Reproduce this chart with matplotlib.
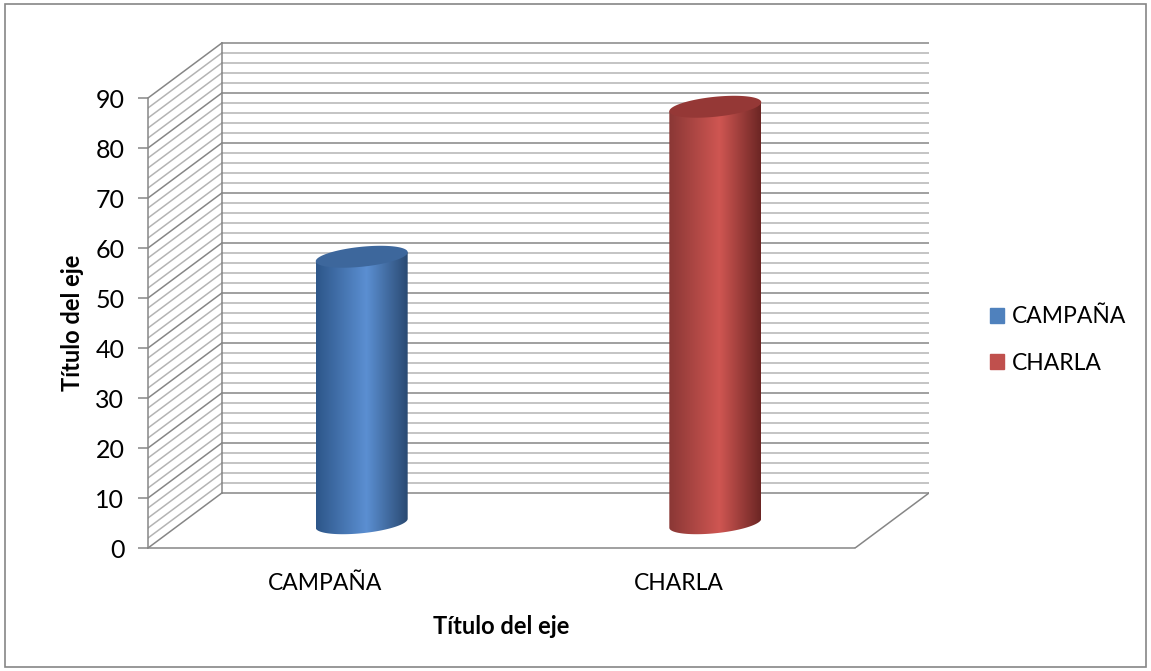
import numpy as np
import matplotlib.pyplot as plt
from matplotlib.colors import LinearSegmentedColormap
from matplotlib.patches import Polygon, Rectangle

categories = ["CAMPAÑA", "CHARLA"]
values = [53.3, 83.3]
y_ticks = [0, 10, 20, 30, 40, 50, 60, 70, 80, 90]
legend_colors = ["#4f81bd", "#c0504d"]
# dark edge, light middle, darker edge, top face
shades = [("#2d5689", "#5b8fd2", "#2a4a72", "#3d679c"),
          ("#8a3735", "#cf5652", "#6c2624", "#953836")]

plt.rcParams['font.family'] = ['Lato', 'DejaVu Sans']

W, H = 1151, 671
fig = plt.figure(figsize=(W / 100, H / 100), dpi=100)
n = len(categories)
ddx, ddy = 0.209, 11.0   # depth of the 3d box (x units, value units)

ax = fig.add_axes([148 / W, 123 / H, 781 / W, 510 / H])
ax.patch.set_alpha(0)

grid_major = "#868686"
grid_minor = "#b4b4b4"

# back wall + side wall
for v in range(0, 91, 2):
    c = grid_major if v % 10 == 0 else grid_minor
    ax.plot([ddx, n + ddx], [v + ddy, v + ddy], color=c, lw=1.1, zorder=1)
    ax.plot([0, ddx], [v, v + ddy], color=c, lw=1.1, zorder=1)
ax.plot([ddx, ddx], [ddy, 90 + ddy], color=grid_major, lw=1.1, zorder=1)
# floor right edge
ax.plot([n, n + ddx], [0, ddy], color=grid_major, lw=1.1, zorder=1)

# cylinders
a, b, s = 0.13, 2.0, 0.9
t = np.linspace(0, 2 * np.pi, 200)
tb = np.linspace(np.pi, 2 * np.pi, 100)
grad = np.linspace(0, 1, 256)[None, :]
for i, v in enumerate(values):
    edge1, light, edge2, top = shades[i]
    cmap = LinearSegmentedColormap.from_list("c%d" % i, [(0, edge1), (0.55, light), (1, edge2)])
    cx = i + 0.5 + ddx / 2
    y0 = ddy * 0.45
    y1 = y0 + v
    bx = cx + a * np.cos(tb)
    by = y0 + b * np.sin(tb) + s * np.cos(tb)
    body = np.column_stack([np.r_[bx, cx + a, cx - a], np.r_[by, y1 + s, y1 - s]])
    clip = Polygon(body, closed=True, transform=ax.transData)
    im = ax.imshow(grad, cmap=cmap, extent=(cx - a, cx + a, y0 - b - s - 0.5, y1 + s),
                   aspect="auto", origin="lower", zorder=3, interpolation="bilinear")
    im.set_clip_path(clip)
    tx = cx + a * np.cos(t)
    ty = y1 + b * np.sin(t) + s * np.cos(t)
    ax.add_patch(Polygon(np.column_stack([tx, ty]), closed=True, facecolor=top,
                         edgecolor="none", zorder=4))

ax.set_xlim(0, n + ddx)
ax.set_ylim(0, 102)

for side in ["top", "right"]:
    ax.spines[side].set_visible(False)
ax.spines["left"].set_bounds(0, 90)
ax.spines["bottom"].set_bounds(0, n)
for side in ["left", "bottom"]:
    ax.spines[side].set_color(grid_major)
    ax.spines[side].set_linewidth(1.1)

ax.set_yticks(y_ticks)
ax.tick_params(axis="y", length=7, width=1.1, color=grid_major, labelsize=18, pad=10)
ax.set_xticks(np.arange(n) + 0.5)
ax.set_xticklabels(categories)
ax.tick_params(axis="x", length=0, labelsize=16.5, pad=18)

fig.text(501 / W, 1 - 626 / H, "Título del eje", fontsize=17, fontweight="bold",
         ha="center", va="center")
fig.text(72 / W, 1 - 323 / H, "Título del eje", fontsize=17, fontweight="bold",
         ha="center", va="center", rotation=90)

handles = [Rectangle((0, 0), 1, 1, color=c) for c in legend_colors]
fig.legend(handles, categories, loc="center left", bbox_to_anchor=(990 / W, 1 - 340 / H),
           frameon=False, fontsize=16.5, handlelength=0.6, handleheight=0.6,
           handletextpad=0.35, labelspacing=1.1, borderpad=0, borderaxespad=0)

fig.patches.append(Rectangle((5 / W, 4 / H), 1141 / W, 663 / H, transform=fig.transFigure,
                             fill=False, edgecolor=grid_major, lw=1.2))

fig.savefig("out.png", dpi=100)
